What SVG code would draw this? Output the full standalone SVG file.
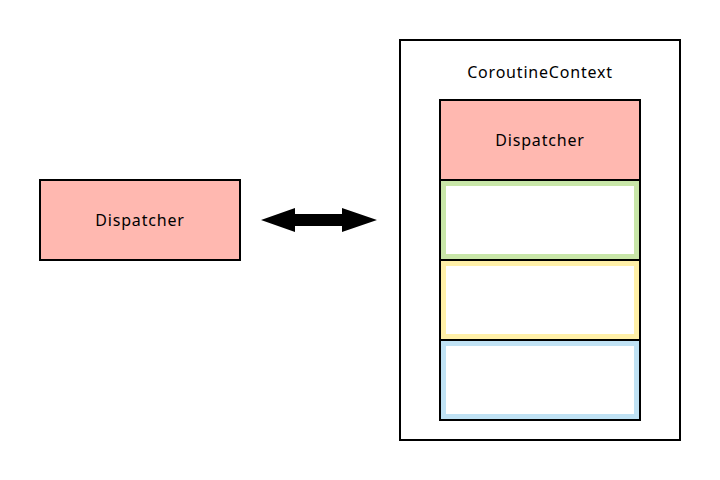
<svg xmlns="http://www.w3.org/2000/svg" width="720" height="480" viewBox="0 0 720 480">
<style>
.box{stroke:#000;stroke-width:2}
.lbl{font-family:"Noto Sans","DejaVu Sans",sans-serif;font-size:16px;letter-spacing:0.8px;fill:#000;text-anchor:middle;dominant-baseline:central}
</style>
<rect width="720" height="480" fill="#fff"/>
<g id="dispatcher-left">
<rect class="box" x="40" y="180" width="200" height="80" fill="#ffb8b0"/>
<text class="lbl" x="140" y="220">Dispatcher</text>
</g>
<g id="coroutine-context">
<rect class="box" x="400" y="40" width="280" height="400" fill="#fff"/>
<text class="lbl" x="540" y="72">CoroutineContext</text>
</g>
<g id="dispatcher-right">
<rect class="box" x="440" y="100" width="200" height="80" fill="#ffb8b0"/>
<text class="lbl" x="540" y="140">Dispatcher</text>
</g>
<g id="element-green">
<rect class="box" x="440" y="180" width="200" height="80" fill="#fff"/>
<rect x="443.5" y="183.5" width="193" height="73" fill="#fff" stroke="#c8e6a8" stroke-width="5"/>
</g>
<g id="element-yellow">
<rect class="box" x="440" y="260" width="200" height="80" fill="#fff"/>
<rect x="443.5" y="263.5" width="193" height="73" fill="#fff" stroke="#fff0a8" stroke-width="5"/>
</g>
<g id="element-blue">
<rect class="box" x="440" y="340" width="200" height="80" fill="#fff"/>
<rect x="443.5" y="343.5" width="193" height="73" fill="#fff" stroke="#c0e2f4" stroke-width="5"/>
</g>
<g id="connectors">
<polygon points="261,220 295,208 295,214 342,214 342,208 377,220 342,232 342,226 295,226 295,232" fill="#000"/>
</g>
</svg>
